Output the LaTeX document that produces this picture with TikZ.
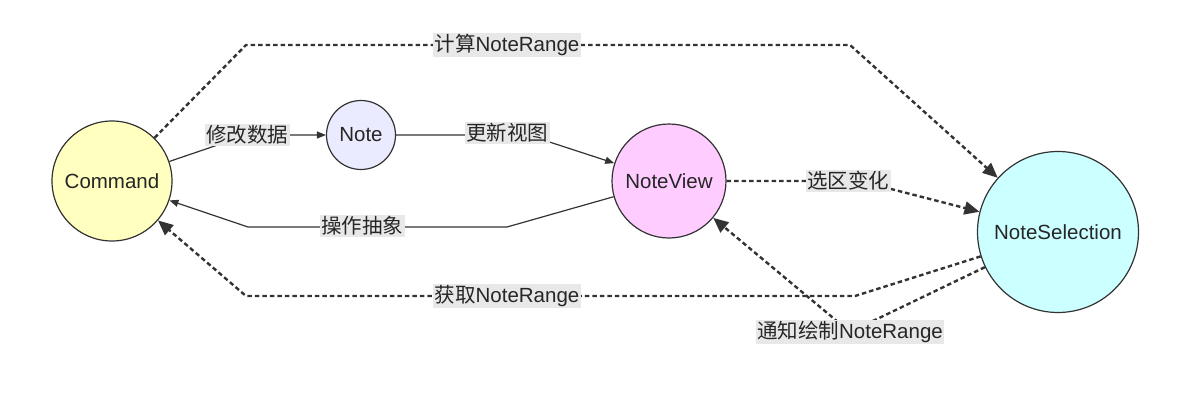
\documentclass[tikz,border=0pt]{standalone}
\usepackage{fontspec}
\setmainfont{Liberation Sans}
\newfontfamily\cjk{Noto Sans CJK SC}
\usetikzlibrary{arrows.meta}
\definecolor{cmdfill}{RGB}{255,255,192}
\definecolor{notefill}{RGB}{235,235,255}
\definecolor{viewfill}{RGB}{255,204,255}
\definecolor{selfill}{RGB}{204,255,255}
\definecolor{ink}{RGB}{51,51,51}
\definecolor{lblbg}{RGB}{232,232,232}
\begin{document}
\begin{tikzpicture}[x=1pt,y=-1pt,
  every node/.style={font=\fontsize{20.5}{24}\selectfont, text=black!85},
  circ/.style={circle, draw=ink, line width=1.2pt, inner sep=0pt},
  lbl/.style={fill=lblbg, inner sep=1.5pt},
  solidedge/.style={draw=ink, line width=1.2pt, -{Triangle[length=9pt,width=7pt]}},
  dotedge/.style={draw=ink, line width=2.4pt, dash pattern=on 4.5pt off 3pt, -{Triangle[length=15pt,width=13pt]}},
]
\useasboundingbox (0,0) rectangle (1200,404);
\node[circ, fill=cmdfill, minimum size=120pt] (cmd) at (112,181) {Command};
\node[circ, fill=notefill, minimum size=69pt] (note) at (361,135) {Note};
\node[circ, fill=viewfill, minimum size=114pt] (view) at (669,181) {NoteView};
\node[circ, fill=selfill, minimum size=161pt] (sel) at (1058,232) {NoteSelection};

\coordinate (w1) at (247,135);
\coordinate (w2) at (528,135);
\coordinate (w3a) at (507,227);
\coordinate (w3b) at (248,227);
\coordinate (w4) at (860,181);
\coordinate (w5a) at (246,45);
\coordinate (w5b) at (850,45);
\coordinate (w6a) at (855,296);
\coordinate (w6b) at (246,296);
\coordinate (w7) at (850,332);

\draw[solidedge] (cmd) -- (w1) -- (note);
\draw[solidedge] (note) -- (w2) -- (view);
\draw[solidedge] (view) -- (w3a) -- (w3b) -- (cmd);
\draw[dotedge] (view) -- (w4) -- (sel);
\draw[dotedge] (cmd) -- (w5a) -- (w5b) -- (sel);
\draw[dotedge] (sel) -- (w6a) -- (w6b) -- (cmd);
\draw[dotedge] (sel) -- (w7) -- (view);

\node[lbl] (l1) at (247,135) {\cjk 修改数据};
\node[lbl] (l2) at (507,133) {\cjk 更新视图};
\node[lbl] (l3) at (362,226) {\cjk 操作抽象};
\node[lbl] (l4) at (848,181) {\cjk 选区变化};
\node[lbl] (l5) at (507,45) {{\cjk 计算}NoteRange};
\node[lbl] (l6) at (507,296) {{\cjk 获取}NoteRange};
\node[lbl] (l7) at (850,332) {{\cjk 通知绘制}NoteRange};
\end{tikzpicture}
\end{document}
